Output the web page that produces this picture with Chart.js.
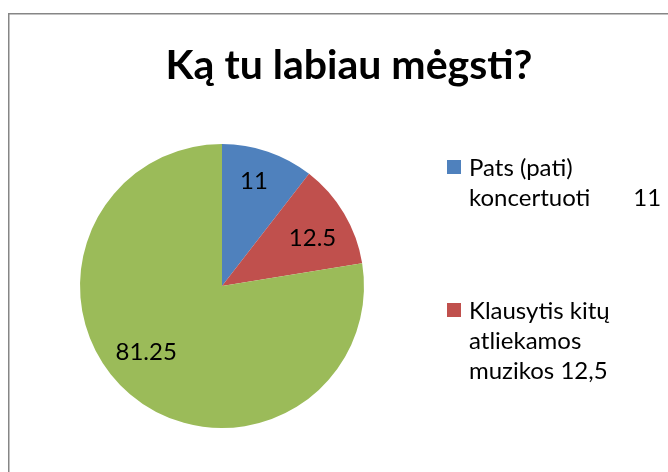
<!DOCTYPE html>
<html>
<head>
<meta charset="utf-8">
<script src="https://cdn.jsdelivr.net/npm/chart.js@4/dist/chart.umd.min.js"></script>
<style>
  html, body { margin: 0; padding: 0; background: #fff; }
  #wrap { width: 668px; height: 472px; position: relative; }
</style>
</head>
<body>
<div id="wrap"><canvas id="c" width="668" height="472"></canvas></div>
<script>
// ---- data ----
const chartTitle = 'Ką tu labiau mėgsti?';
const categories = ['Pats (pati) koncertuoti', 'Klausytis kitų atliekamos muzikos', 'Kita'];
const values = [11, 12.5, 81.25];
const valueLabels = ['11', '12.5', '81.25'];
const legendLines = [
  ['Pats (pati)', 'koncertuoti       11'],
  ['Klausytis kitų', 'atliekamos', 'muzikos 12,5']
];
const colors = ['#4F81BD', '#C0504D', '#9BBB59'];

// ---- styles ----
const FONT = 'Lato, "Open Sans", sans-serif';
// label placement: fraction along slice angle, fraction of radius
const labelPlace = [[0.45, 0.77], [0.57, 0.72], [0.53, 0.71]];

const decor = {
  id: 'decor',
  beforeDraw(chart) {
    const ctx = chart.ctx;
    ctx.save();
    ctx.fillStyle = '#fff';
    ctx.fillRect(0, 0, chart.width, chart.height);
    ctx.strokeStyle = '#868686';
    ctx.lineWidth = 1.5;
    ctx.beginPath();
    ctx.moveTo(8.75, chart.height + 5);
    ctx.lineTo(8.75, 13.75);
    ctx.lineTo(chart.width + 5, 13.75);
    ctx.stroke();
    ctx.restore();
  },
  afterDraw(chart) {
    const ctx = chart.ctx;
    ctx.save();
    // title
    ctx.fillStyle = '#000';
    ctx.font = 'bold 41px ' + FONT;
    ctx.textAlign = 'center';
    ctx.textBaseline = 'alphabetic';
    ctx.fillText(chartTitle, 349, 79);
    // data labels
    ctx.font = '24px ' + FONT;
    ctx.textBaseline = 'middle';
    const meta = chart.getDatasetMeta(0);
    meta.data.forEach((arc, i) => {
      const p = arc.getProps(['x', 'y', 'startAngle', 'endAngle', 'outerRadius']);
      const a = p.startAngle + (p.endAngle - p.startAngle) * labelPlace[i][0];
      const r = p.outerRadius * labelPlace[i][1];
      ctx.fillText(valueLabels[i], p.x + Math.cos(a) * r, p.y + Math.sin(a) * r);
    });
    // legend
    ctx.textAlign = 'left';
    ctx.textBaseline = 'alphabetic';
    const starts = [176, 319];
    legendLines.forEach((lines, i) => {
      ctx.fillStyle = colors[i];
      ctx.fillRect(447, starts[i] - 16, 14, 14);
      ctx.fillStyle = '#000';
      lines.forEach((ln, j) => {
        ctx.fillText(ln, 469, starts[i] + j * 30);
      });
    });
    ctx.restore();
  }
};

new Chart(document.getElementById('c'), {
  type: 'pie',
  data: {
    labels: categories,
    datasets: [{
      data: values,
      backgroundColor: colors,
      borderWidth: 0
    }]
  },
  options: {
    responsive: false,
    animation: false,
    layout: { padding: { top: 144, bottom: 44, left: 80, right: 304 } },
    plugins: {
      legend: { display: false },
      title: { display: false },
      tooltip: { enabled: false }
    }
  },
  plugins: [decor]
});
</script>
</body>
</html>
